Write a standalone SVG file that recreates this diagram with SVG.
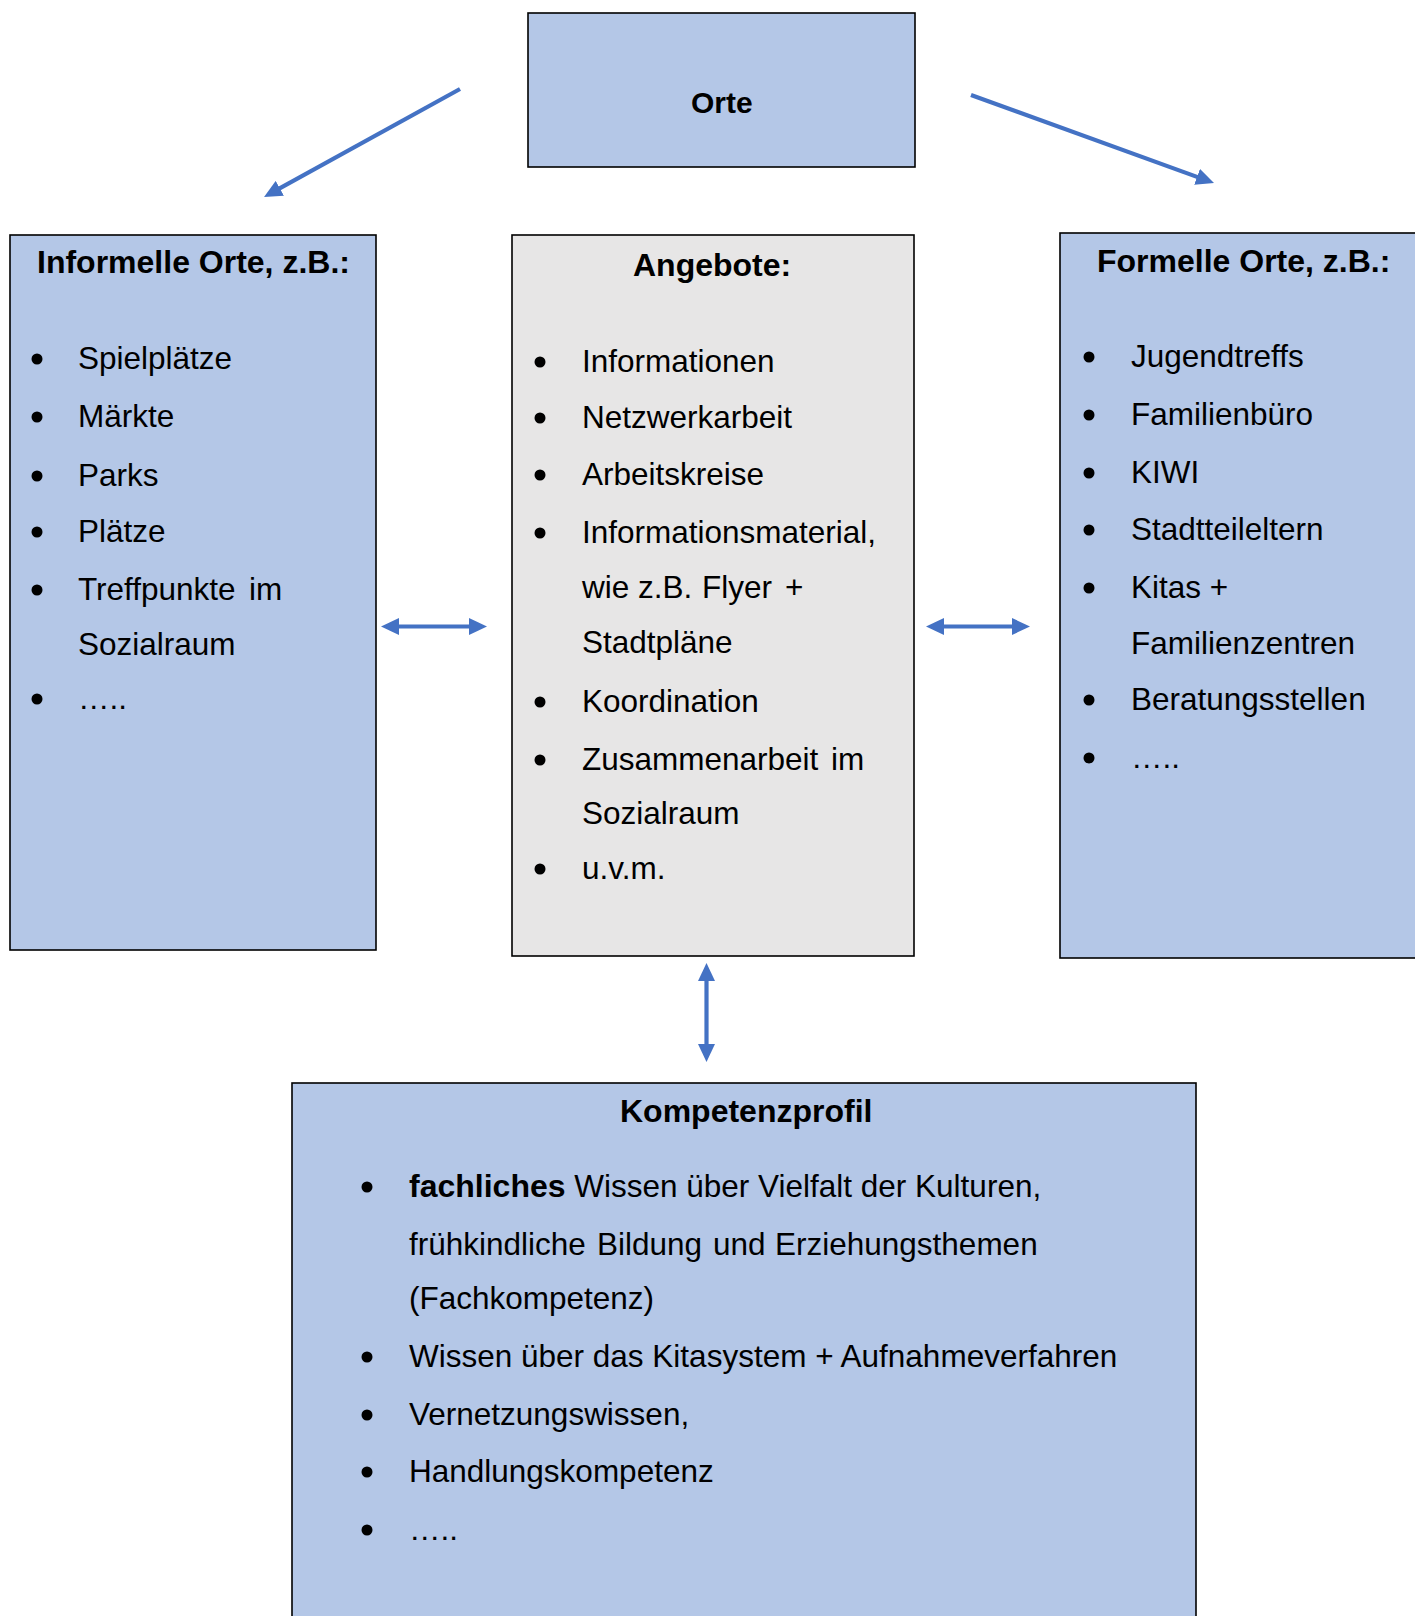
<svg xmlns="http://www.w3.org/2000/svg" width="1415" height="1616" viewBox="0 0 1415 1616">
<style>
.box{fill:#B4C7E7;stroke:#000;stroke-width:1.6}
.grey{fill:#E7E6E6;stroke:#000;stroke-width:1.6}
.t{font-family:"Liberation Sans",Arial,sans-serif;font-size:31.5px;fill:#000}
.h{font-family:"Liberation Sans",Arial,sans-serif;font-size:32px;font-weight:bold;fill:#000}
.b{fill:#000}
.con{stroke:#4472C4;stroke-width:4.2;fill:none;marker-end:url(#ah)}
.dbl{marker-start:url(#ah)}
</style>
<defs>
<marker id="ah" markerUnits="userSpaceOnUse" markerWidth="18" markerHeight="17" refX="8" refY="8.5" orient="auto-start-reverse" viewBox="0 0 18 17">
<path d="M0,0 L18,8.5 L0,17 z" fill="#4472C4"/>
</marker>
</defs>
<rect width="1415" height="1616" fill="#fff"/>

<g id="orte">
<rect class="box" x="528" y="13" width="387" height="154"/>
<text class="h" x="691" y="113" style="font-size:30px">Orte</text>
</g>

<g id="informelle">
<rect class="box" x="10" y="235" width="366" height="715"/>
<text class="h" x="37" y="273">Informelle Orte, z.B.:</text>
<circle class="b" cx="37" cy="359" r="5.5"/><text class="t" x="78" y="369">Spielplätze</text>
<circle class="b" cx="37" cy="417" r="5.5"/><text class="t" x="78" y="427">Märkte</text>
<circle class="b" cx="37" cy="476" r="5.5"/><text class="t" x="78" y="486">Parks</text>
<circle class="b" cx="37" cy="532" r="5.5"/><text class="t" x="78" y="542">Plätze</text>
<circle class="b" cx="37" cy="590" r="5.5"/><text class="t" x="78" y="600">Treffpunkte<tspan x="249">im</tspan></text>
<text class="t" x="78" y="655">Sozialraum</text>
<circle class="b" cx="37" cy="699" r="5.5"/><text class="t" x="78" y="709">…..</text>
</g>

<g id="angebote">
<rect class="grey" x="512" y="235" width="402" height="721"/>
<text class="h" x="633" y="276">Angebote:</text>
<circle class="b" cx="540" cy="362" r="5.5"/><text class="t" x="582" y="372">Informationen</text>
<circle class="b" cx="540" cy="418" r="5.5"/><text class="t" x="582" y="428">Netzwerkarbeit</text>
<circle class="b" cx="540" cy="475" r="5.5"/><text class="t" x="582" y="485">Arbeitskreise</text>
<circle class="b" cx="540" cy="533" r="5.5"/><text class="t" x="582" y="543">Informationsmaterial,</text>
<text class="t" x="582" y="598">wie z.B.<tspan x="702">Flyer</tspan><tspan x="785">+</tspan></text>
<text class="t" x="582" y="653">Stadtpläne</text>
<circle class="b" cx="540" cy="702" r="5.5"/><text class="t" x="582" y="712">Koordination</text>
<circle class="b" cx="540" cy="760" r="5.5"/><text class="t" x="582" y="770">Zusammenarbeit<tspan x="831">im</tspan></text>
<text class="t" x="582" y="824">Sozialraum</text>
<circle class="b" cx="540" cy="869" r="5.5"/><text class="t" x="582" y="879">u.v.m.</text>
</g>

<g id="formelle">
<rect class="box" x="1060" y="233" width="380" height="725"/>
<text class="h" x="1097" y="272">Formelle Orte, z.B.:</text>
<circle class="b" cx="1089" cy="357" r="5.5"/><text class="t" x="1131" y="367">Jugendtreffs</text>
<circle class="b" cx="1089" cy="415" r="5.5"/><text class="t" x="1131" y="425">Familienbüro</text>
<circle class="b" cx="1089" cy="473" r="5.5"/><text class="t" x="1131" y="483">KIWI</text>
<circle class="b" cx="1089" cy="530" r="5.5"/><text class="t" x="1131" y="540">Stadtteileltern</text>
<circle class="b" cx="1089" cy="588" r="5.5"/><text class="t" x="1131" y="598">Kitas +</text>
<text class="t" x="1131" y="654">Familienzentren</text>
<circle class="b" cx="1089" cy="700" r="5.5"/><text class="t" x="1131" y="710">Beratungsstellen</text>
<circle class="b" cx="1089" cy="758" r="5.5"/><text class="t" x="1131" y="768">…..</text>
</g>

<g id="kompetenzprofil">
<rect class="box" x="292" y="1083" width="904" height="560"/>
<text class="h" x="620" y="1122">Kompetenzprofil</text>
<circle class="b" cx="367" cy="1187" r="5.5"/><text class="t" x="409" y="1197"><tspan style="font-weight:bold;font-size:32px">fachliches</tspan> Wissen über Vielfalt der Kulturen,</text>
<text class="t" x="409" y="1255">frühkindliche<tspan x="597">Bildung</tspan><tspan x="713">und</tspan><tspan x="775">Erziehungsthemen</tspan></text>
<text class="t" x="409" y="1309">(Fachkompetenz)</text>
<circle class="b" cx="367" cy="1357" r="5.5"/><text class="t" x="409" y="1367">Wissen über das Kitasystem + Aufnahmeverfahren</text>
<circle class="b" cx="367" cy="1415" r="5.5"/><text class="t" x="409" y="1425">Vernetzungswissen,</text>
<circle class="b" cx="367" cy="1472" r="5.5"/><text class="t" x="409" y="1482">Handlungskompetenz</text>
<circle class="b" cx="367" cy="1530" r="5.5"/><text class="t" x="409" y="1540">…..</text>
</g>

<g id="connectors">
<line class="con" x1="460" y1="89" x2="272.8" y2="192.2"/>
<line class="con" x1="971" y1="95" x2="1204.6" y2="179.6"/>
<line class="con dbl" x1="391" y1="626.5" x2="477" y2="626.5"/>
<line class="con dbl" x1="936" y1="626.5" x2="1020" y2="626.5"/>
<line class="con dbl" x1="706.5" y1="973" x2="706.5" y2="1052"/>
</g>
</svg>
